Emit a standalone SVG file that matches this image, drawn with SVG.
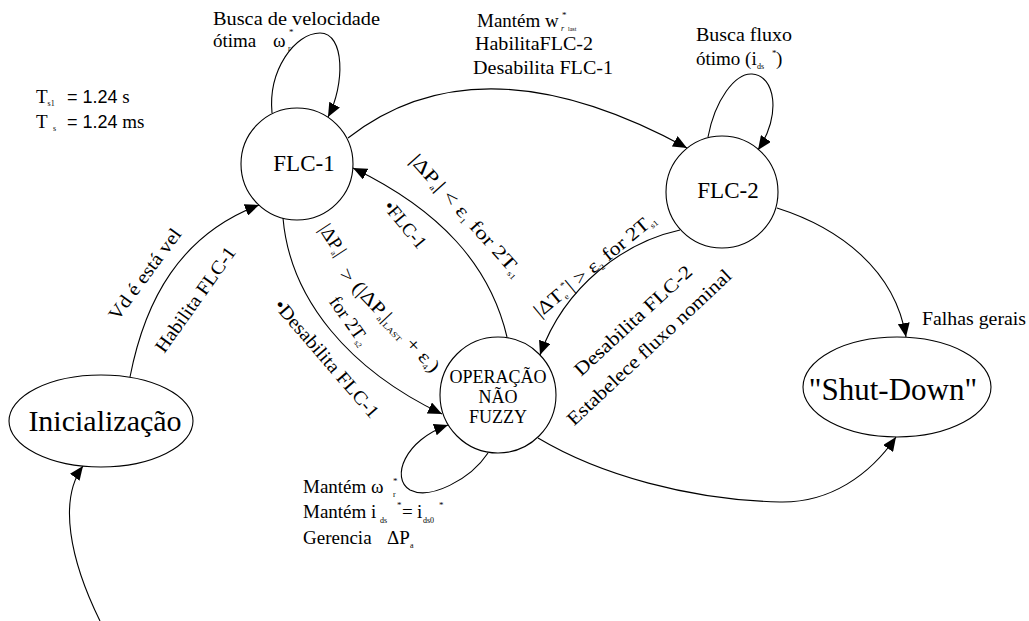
<svg xmlns="http://www.w3.org/2000/svg" width="1029" height="621" viewBox="0 0 1029 621">
<style>
text{font-family:"Liberation Serif","DejaVu Serif","Noto Serif",Tinos,"Times New Roman",serif;fill:#000;font-size:19px}
.node{fill:none;stroke:#000;stroke-width:1.1}
.edge{fill:none;stroke:#000;stroke-width:1.1;marker-end:url(#arr)}
.nt{font-size:23px;text-anchor:middle}
.sub{font-size:8px}
.sup{font-size:9px}
.sans{font-family:"Liberation Sans",Arimo,Arial,sans-serif}
</style>
<defs>
<marker id="arr" viewBox="0 0 14 12" refX="14" refY="6" markerWidth="14" markerHeight="12" markerUnits="userSpaceOnUse" orient="auto"><path d="M0,0 L14,6 L0,12 z" fill="#000"/></marker>
</defs>
<rect width="1029" height="621" fill="#fff"/>

<g id="n-init"><ellipse class="node" cx="101" cy="421" rx="92" ry="46"/><text x="105" y="431" font-family="Liberation Serif, serif" style="font-size:30px;text-anchor:middle">Inicialização</text></g>
<g id="n-flc1"><circle class="node" cx="297" cy="164" r="56"/><text class="nt" x="304" y="171">FLC-1</text></g>
<g id="n-flc2"><circle class="node" cx="722" cy="192" r="56"/><text class="nt" x="728" y="198">FLC-2</text></g>
<g id="n-op"><circle class="node" cx="498" cy="395" r="58"/><text x="498" y="383" style="font-size:18px;text-anchor:middle">OPERAÇÃO</text><text x="498" y="403" style="font-size:18px;text-anchor:middle">NÃO</text><text x="498" y="423" style="font-size:18px;text-anchor:middle">FUZZY</text></g>
<g id="n-shut"><ellipse class="node" cx="897" cy="387" rx="94" ry="50"/><text x="893" y="400" style="font-size:31px;text-anchor:middle">"Shut-Down"</text></g>

<g id="edges">
<path class="edge" d="M130,377 C145,300 180,235 259,205"/>
<path class="edge" d="M100,621 C70,560 58,500 83,466"/>
<path class="edge" d="M272,113 C268,70 295,33 320,33 C345,33 345,85 328,117"/>
<path class="edge" d="M348,138 Q480,35 687,148"/>
<path class="edge" d="M708,137 C715,100 735,73 752,74 C775,75 782,115 758,150"/>
<path class="edge" d="M680,230 C625,242 565,285 540,355"/>
<path class="edge" d="M507,337 C490,265 440,210 353,168"/>
<path class="edge" d="M283,218 C290,300 350,370 442,414"/>
<path class="edge" d="M488,453 C470,480 430,500 410,490 C390,478 405,440 448,425"/>
<path class="edge" d="M538,438 C600,475 690,500 780,502 C830,503 870,475 896,437"/>
<path class="edge" d="M777,208 C840,228 895,270 906,337"/>
</g>

<g id="labels">
<text x="36" y="103">T<tspan class="sub" dy="3">s1</tspan><tspan class="sans" x="67" dy="-3" style="font-size:18px">= 1.24</tspan><tspan> s</tspan></text>
<text x="36" y="128">T<tspan class="sub" x="53" dy="3">s</tspan><tspan class="sans" x="67" dy="-3" style="font-size:18px">= 1.24</tspan><tspan> ms</tspan></text>

<text x="213" y="25" textLength="167" lengthAdjust="spacingAndGlyphs">Busca de velocidade</text>
<text x="213" y="47">ótima<tspan x="273">ω</tspan><tspan class="sub" x="288" y="51">r</tspan><tspan class="sup" x="289" y="35">*</tspan></text>

<text x="477" y="27">Mantém w<tspan class="sub" x="561" y="31" style="font-style:italic">r</tspan><tspan class="sup" x="562" y="18">*</tspan><tspan x="568" y="31" style="font-size:6px">last</tspan></text>
<text x="475" y="50" textLength="118" lengthAdjust="spacingAndGlyphs">HabilitaFLC-2</text>
<text x="473" y="74" textLength="140" lengthAdjust="spacingAndGlyphs">Desabilita FLC-1</text>

<text x="696" y="41" textLength="96" lengthAdjust="spacingAndGlyphs">Busca fluxo</text>
<text x="696" y="65">ótimo (i<tspan class="sub" x="757" y="69">ds</tspan><tspan class="sup" x="772" y="56">*</tspan><tspan x="776" y="65">)</tspan></text>

<text x="922" y="325" textLength="104" lengthAdjust="spacingAndGlyphs">Falhas gerais</text>

<text x="303" y="493">Mantém ω<tspan class="sub" x="393" y="497">r</tspan><tspan class="sup" x="393" y="484">*</tspan></text>
<text x="303" y="518">Mantém i<tspan class="sub" x="380" y="523">ds</tspan><tspan class="sup" x="397" y="508">*</tspan><tspan x="402" y="518">=</tspan><tspan x="417" y="518">i</tspan><tspan class="sub" x="423" y="523">ds0</tspan><tspan class="sup" x="439" y="508">*</tspan></text>
<text x="303" y="544">Gerencia<tspan x="387">ΔP</tspan><tspan class="sub" x="410" y="548">a</tspan></text>

<text transform="translate(117.4,321.8) rotate(-53.5)" textLength="109" lengthAdjust="spacingAndGlyphs">Vd é está vel</text>
<text transform="translate(164.2,354.1) rotate(-54.6)" textLength="125" lengthAdjust="spacingAndGlyphs">Habilita FLC-1</text>

<text transform="translate(273,306) rotate(49.2)" textLength="150" lengthAdjust="spacingAndGlyphs">•Desabilita FLC-1</text>
<text transform="translate(382.5,207) rotate(50.6)" textLength="56" lengthAdjust="spacingAndGlyphs">•FLC-1</text>

<text transform="translate(327.7,243.3) rotate(57)" style="text-anchor:middle">|ΔP<tspan class="sub" dy="3">a</tspan><tspan dy="-3">|</tspan></text>
<text transform="translate(338.5,275) rotate(46.5)" textLength="136" lengthAdjust="spacingAndGlyphs">&gt; (|ΔP<tspan class="sub" dy="3">a</tspan><tspan dy="-3">|</tspan><tspan class="sub" dy="3">LAST</tspan><tspan dy="-3"> + ε</tspan><tspan class="sub" dy="3">4</tspan><tspan dy="-3">)</tspan></text>
<text transform="translate(328.4,301.8) rotate(54.5)">for 2T<tspan class="sub" dy="3">s2</tspan></text>

<text transform="translate(409,161) rotate(48)" textLength="158" lengthAdjust="spacingAndGlyphs">|ΔP<tspan class="sub" dy="3">a</tspan><tspan dy="-3">| &lt; ε</tspan><tspan class="sub" dy="3">1</tspan><tspan dy="-3"> for 2T</tspan><tspan class="sub" dy="3">s1</tspan></text>

<text transform="translate(540,318) rotate(-39.5)" textLength="152" lengthAdjust="spacingAndGlyphs">|ΔT<tspan class="sub" dy="3">e</tspan><tspan class="sup" dy="-11">*</tspan><tspan dy="8">| &gt; ε</tspan><tspan class="sub" dy="3">2</tspan><tspan dy="-3"> for 2T</tspan><tspan class="sub" dy="3">s1</tspan></text>
<text transform="translate(581,377) rotate(-42.6)" textLength="153" lengthAdjust="spacingAndGlyphs">Desabilita  FLC-2</text>
<text transform="translate(574,426.5) rotate(-43.2)" textLength="218" lengthAdjust="spacingAndGlyphs">Estabelece fluxo nominal</text>
</g>
</svg>
